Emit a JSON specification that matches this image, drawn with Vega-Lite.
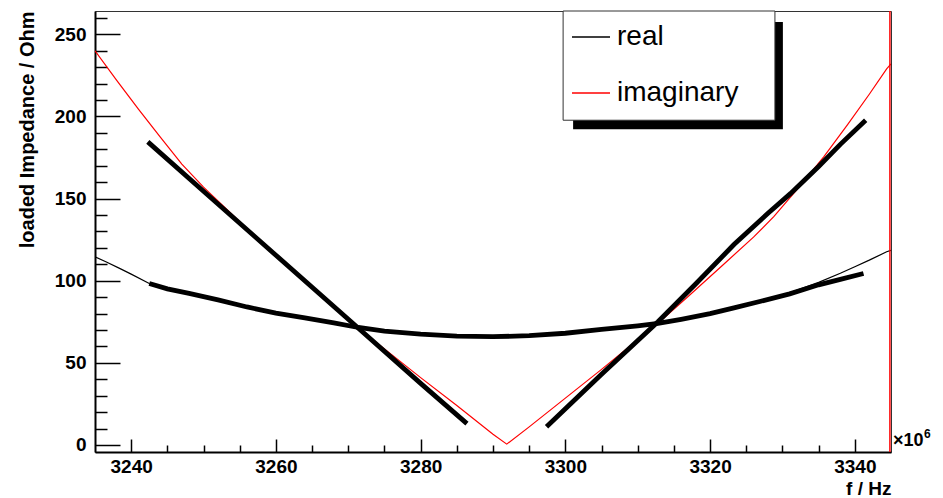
{
  "$schema": "https://vega.github.io/schema/vega-lite/v6.json",
  "width": 796,
  "height": 441,
  "autosize": {"type": "none"},
  "padding": {"left": 95, "top": 11, "right": 52, "bottom": 46},
  "background": "white",
  "config": {
    "font": "Liberation Sans",
    "view": {"stroke": "#333", "strokeWidth": 1},
    "axis": {
      "domainColor": "black", "domainWidth": 2, "tickColor": "black", "tickWidth": 1.5,
      "grid": false, "labelFont": "Liberation Sans", "labelFontWeight": "bold", "labelColor": "black",
      "titleFont": "Liberation Sans", "titleFontWeight": "bold", "titleColor": "black",
      "labelFontSize": 19, "labelFlush": false, "labelOverlap": false, "zindex": 1, "format": "d"
    },
    "axisX": {
      "titleAnchor": "end", "titlePadding": -3, "titleFontSize": 19,
      "tickSize": {"condition": {"test": "datum.value % 20 === 0", "value": -13}, "value": -7},
      "labelExpr": "datum.value % 20 === 0 ? datum.label : ''",
      "labelPadding": 18
    },
    "axisY": {
      "titleAnchor": "end", "titlePadding": 17, "titleFontSize": 20,
      "tickSize": {"condition": {"test": "datum.value % 50 === 0", "value": -25}, "value": -12},
      "labelExpr": "datum.value % 50 === 0 ? datum.label : ''",
      "labelPadding": 34
    }
  },
  "datasets": {
    "model": [
      {"f": 3235, "z": 114.5, "series": "real"},
      {"f": 3236.5, "z": 111.5, "series": "real"},
      {"f": 3238.4, "z": 107.5, "series": "real"},
      {"f": 3240, "z": 104, "series": "real"},
      {"f": 3242.5, "z": 98.3, "series": "real"},
      {"f": 3245, "z": 95, "series": "real"},
      {"f": 3248, "z": 92.3, "series": "real"},
      {"f": 3252, "z": 88.4, "series": "real"},
      {"f": 3256, "z": 84.2, "series": "real"},
      {"f": 3260, "z": 80.4, "series": "real"},
      {"f": 3264, "z": 77.3, "series": "real"},
      {"f": 3268, "z": 74.3, "series": "real"},
      {"f": 3271.4, "z": 71.3, "series": "real"},
      {"f": 3275, "z": 69.2, "series": "real"},
      {"f": 3280, "z": 67.4, "series": "real"},
      {"f": 3285, "z": 66.3, "series": "real"},
      {"f": 3290, "z": 65.9, "series": "real"},
      {"f": 3295, "z": 66.6, "series": "real"},
      {"f": 3300, "z": 68.2, "series": "real"},
      {"f": 3305, "z": 70.4, "series": "real"},
      {"f": 3310, "z": 72.6, "series": "real"},
      {"f": 3312.8, "z": 74, "series": "real"},
      {"f": 3316, "z": 76.8, "series": "real"},
      {"f": 3320, "z": 80.3, "series": "real"},
      {"f": 3323.3, "z": 83.8, "series": "real"},
      {"f": 3327, "z": 88, "series": "real"},
      {"f": 3331, "z": 92.6, "series": "real"},
      {"f": 3335, "z": 99, "series": "real"},
      {"f": 3338, "z": 104.5, "series": "real"},
      {"f": 3340, "z": 108.5, "series": "real"},
      {"f": 3342, "z": 112.5, "series": "real"},
      {"f": 3344.4, "z": 117.6, "series": "real"},
      {"f": 3345, "z": 118.5, "series": "real"},
      {"f": 3235, "z": 240, "series": "imaginary"},
      {"f": 3238, "z": 222, "series": "imaginary"},
      {"f": 3241, "z": 204.5, "series": "imaginary"},
      {"f": 3244, "z": 187.5, "series": "imaginary"},
      {"f": 3247, "z": 171, "series": "imaginary"},
      {"f": 3250, "z": 157, "series": "imaginary"},
      {"f": 3255, "z": 136, "series": "imaginary"},
      {"f": 3260, "z": 115, "series": "imaginary"},
      {"f": 3265, "z": 95.5, "series": "imaginary"},
      {"f": 3271.4, "z": 71, "series": "imaginary"},
      {"f": 3276, "z": 55, "series": "imaginary"},
      {"f": 3280, "z": 41, "series": "imaginary"},
      {"f": 3285, "z": 24, "series": "imaginary"},
      {"f": 3290, "z": 6.5, "series": "imaginary"},
      {"f": 3291.9, "z": 0.5, "series": "imaginary"},
      {"f": 3295, "z": 11, "series": "imaginary"},
      {"f": 3300, "z": 28.5, "series": "imaginary"},
      {"f": 3305, "z": 46, "series": "imaginary"},
      {"f": 3310, "z": 64, "series": "imaginary"},
      {"f": 3312.8, "z": 74, "series": "imaginary"},
      {"f": 3317, "z": 90.5, "series": "imaginary"},
      {"f": 3322, "z": 110.5, "series": "imaginary"},
      {"f": 3326, "z": 126.5, "series": "imaginary"},
      {"f": 3328.8, "z": 139, "series": "imaginary"},
      {"f": 3332, "z": 155.5, "series": "imaginary"},
      {"f": 3335.7, "z": 175.4, "series": "imaginary"},
      {"f": 3339, "z": 195, "series": "imaginary"},
      {"f": 3342, "z": 213.5, "series": "imaginary"},
      {"f": 3344.4, "z": 229, "series": "imaginary"},
      {"f": 3345, "z": 232, "series": "imaginary"}
    ],
    "meas": [
      {"f": 3242.5, "z": 98.3, "part": "re"},
      {"f": 3245, "z": 95, "part": "re"},
      {"f": 3248, "z": 92.3, "part": "re"},
      {"f": 3252, "z": 88.3, "part": "re"},
      {"f": 3256, "z": 84, "part": "re"},
      {"f": 3260, "z": 80.3, "part": "re"},
      {"f": 3264, "z": 77.3, "part": "re"},
      {"f": 3268, "z": 74.3, "part": "re"},
      {"f": 3271.4, "z": 71.5, "part": "re"},
      {"f": 3275, "z": 69.3, "part": "re"},
      {"f": 3280, "z": 67.5, "part": "re"},
      {"f": 3285, "z": 66.3, "part": "re"},
      {"f": 3290, "z": 65.9, "part": "re"},
      {"f": 3295, "z": 66.5, "part": "re"},
      {"f": 3300, "z": 68, "part": "re"},
      {"f": 3305, "z": 70.3, "part": "re"},
      {"f": 3310, "z": 72.5, "part": "re"},
      {"f": 3312.8, "z": 74, "part": "re"},
      {"f": 3316, "z": 76.5, "part": "re"},
      {"f": 3320, "z": 80, "part": "re"},
      {"f": 3323.3, "z": 83.5, "part": "re"},
      {"f": 3327, "z": 87.5, "part": "re"},
      {"f": 3331, "z": 92, "part": "re"},
      {"f": 3335, "z": 97.5, "part": "re"},
      {"f": 3338, "z": 100.8, "part": "re"},
      {"f": 3341.2, "z": 104.4, "part": "re"},
      {"f": 3242.3, "z": 184.5, "part": "imL"},
      {"f": 3250, "z": 154.5, "part": "imL"},
      {"f": 3260, "z": 115.5, "part": "imL"},
      {"f": 3270, "z": 76.5, "part": "imL"},
      {"f": 3280, "z": 37.5, "part": "imL"},
      {"f": 3286.4, "z": 13, "part": "imL"},
      {"f": 3297.4, "z": 11.1, "part": "imR"},
      {"f": 3305, "z": 43, "part": "imR"},
      {"f": 3312.8, "z": 75, "part": "imR"},
      {"f": 3318, "z": 98, "part": "imR"},
      {"f": 3323.3, "z": 122, "part": "imR"},
      {"f": 3328, "z": 141, "part": "imR"},
      {"f": 3331.1, "z": 153, "part": "imR"},
      {"f": 3335, "z": 169.5, "part": "imR"},
      {"f": 3338, "z": 183, "part": "imR"},
      {"f": 3341.5, "z": 197.7, "part": "imR"}
    ]
  },
  "layer": [
    {
      "data": {"values": [{}]},
      "mark": {"type": "rect", "color": "black"},
      "encoding": {
        "x": {"datum": 3301.07, "type": "quantitative", "axis": {"title": "f / Hz", "values": [3240, 3245, 3250, 3255, 3260, 3265, 3270, 3275, 3280, 3285, 3290, 3295, 3300, 3305, 3310, 3315, 3320, 3325, 3330, 3335, 3340]}},
        "x2": {"datum": 3330.06},
        "y": {"datum": 257.5, "type": "quantitative", "axis": {"title": "loaded Impedance / Ohm", "values": [0, 10, 20, 30, 40, 50, 60, 70, 80, 90, 100, 110, 120, 130, 140, 150, 160, 170, 180, 190, 200, 210, 220, 230, 240, 250, 260]}},
        "y2": {"datum": 192.2}
      }
    },
    {
      "data": {"values": [{}]},
      "mark": {"type": "rect", "fill": "white", "stroke": "#333", "strokeWidth": 1},
      "encoding": {
        "x": {"datum": 3299.69, "type": "quantitative", "axis": {"title": "f / Hz", "values": [3240, 3245, 3250, 3255, 3260, 3265, 3270, 3275, 3280, 3285, 3290, 3295, 3300, 3305, 3310, 3315, 3320, 3325, 3330, 3335, 3340]}},
        "x2": {"datum": 3328.96},
        "y": {"datum": 264.2, "type": "quantitative", "axis": {"title": "loaded Impedance / Ohm", "values": [0, 10, 20, 30, 40, 50, 60, 70, 80, 90, 100, 110, 120, 130, 140, 150, 160, 170, 180, 190, 200, 210, 220, 230, 240, 250, 260]}},
        "y2": {"datum": 197.7}
      }
    },
    {
      "data": {"name": "model"},
      "mark": {"type": "line", "strokeWidth": 1.2, "clip": true},
      "encoding": {
        "x": {
          "field": "f", "type": "quantitative",
          "scale": {"domain": [3235, 3345], "nice": false, "zero": false},
          "axis": {"title": "f / Hz", "values": [3240, 3245, 3250, 3255, 3260, 3265, 3270, 3275, 3280, 3285, 3290, 3295, 3300, 3305, 3310, 3315, 3320, 3325, 3330, 3335, 3340]}
        },
        "y": {
          "field": "z", "type": "quantitative",
          "scale": {"domain": [-4.3, 264.2], "nice": false, "zero": false},
          "axis": {"title": "loaded Impedance / Ohm", "values": [0, 10, 20, 30, 40, 50, 60, 70, 80, 90, 100, 110, 120, 130, 140, 150, 160, 170, 180, 190, 200, 210, 220, 230, 240, 250, 260]}
        },
        "color": {
          "field": "series", "type": "nominal",
          "scale": {"domain": ["real", "imaginary"], "range": ["black", "#ff0000"]},
          "legend": {
            "title": null, "orient": "none", "legendX": 476, "legendY": 6,
            "symbolType": "stroke", "symbolSize": 1444, "symbolStrokeWidth": 1.5,
            "labelFontSize": 28, "labelFont": "Liberation Sans", "labelColor": "black",
            "labelOffset": 6, "rowPadding": 22, "padding": 0
          }
        }
      }
    },
    {
      "data": {"name": "meas"},
      "mark": {"type": "line", "strokeWidth": 4.8, "color": "black", "clip": true},
      "encoding": {
        "x": {"field": "f", "type": "quantitative", "axis": {"title": "f / Hz", "values": [3240, 3245, 3250, 3255, 3260, 3265, 3270, 3275, 3280, 3285, 3290, 3295, 3300, 3305, 3310, 3315, 3320, 3325, 3330, 3335, 3340]}},
        "y": {"field": "z", "type": "quantitative", "axis": {"title": "loaded Impedance / Ohm", "values": [0, 10, 20, 30, 40, 50, 60, 70, 80, 90, 100, 110, 120, 130, 140, 150, 160, 170, 180, 190, 200, 210, 220, 230, 240, 250, 260]}},
        "detail": {"field": "part", "type": "nominal"}
      }
    },
    {
      "data": {"values": [{}]},
      "mark": {"type": "rule", "color": "#ff0000", "strokeWidth": 1.5},
      "encoding": {
        "x": {"datum": 3344.85, "type": "quantitative", "axis": {"title": "f / Hz", "values": [3240, 3245, 3250, 3255, 3260, 3265, 3270, 3275, 3280, 3285, 3290, 3295, 3300, 3305, 3310, 3315, 3320, 3325, 3330, 3335, 3340]}}
      }
    },
    {
      "data": {"values": [{}]},
      "mark": {"type": "text", "text": "×10", "align": "left", "baseline": "alphabetic", "dx": 2, "dy": 1, "fontSize": 18, "fontWeight": "bold", "color": "black", "font": "Liberation Sans"},
      "encoding": {
        "x": {"datum": 3345, "type": "quantitative", "axis": {"title": "f / Hz", "values": [3240, 3245, 3250, 3255, 3260, 3265, 3270, 3275, 3280, 3285, 3290, 3295, 3300, 3305, 3310, 3315, 3320, 3325, 3330, 3335, 3340]}},
        "y": {"datum": 0, "type": "quantitative", "axis": {"title": "loaded Impedance / Ohm", "values": [0, 10, 20, 30, 40, 50, 60, 70, 80, 90, 100, 110, 120, 130, 140, 150, 160, 170, 180, 190, 200, 210, 220, 230, 240, 250, 260]}}
      }
    },
    {
      "data": {"values": [{}]},
      "mark": {"type": "text", "text": "6", "align": "left", "baseline": "alphabetic", "dx": 33, "dy": -7, "fontSize": 12, "fontWeight": "bold", "color": "black", "font": "Liberation Sans"},
      "encoding": {
        "x": {"datum": 3345, "type": "quantitative", "axis": {"title": "f / Hz", "values": [3240, 3245, 3250, 3255, 3260, 3265, 3270, 3275, 3280, 3285, 3290, 3295, 3300, 3305, 3310, 3315, 3320, 3325, 3330, 3335, 3340]}},
        "y": {"datum": 0, "type": "quantitative", "axis": {"title": "loaded Impedance / Ohm", "values": [0, 10, 20, 30, 40, 50, 60, 70, 80, 90, 100, 110, 120, 130, 140, 150, 160, 170, 180, 190, 200, 210, 220, 230, 240, 250, 260]}}
      }
    }
  ]
}
